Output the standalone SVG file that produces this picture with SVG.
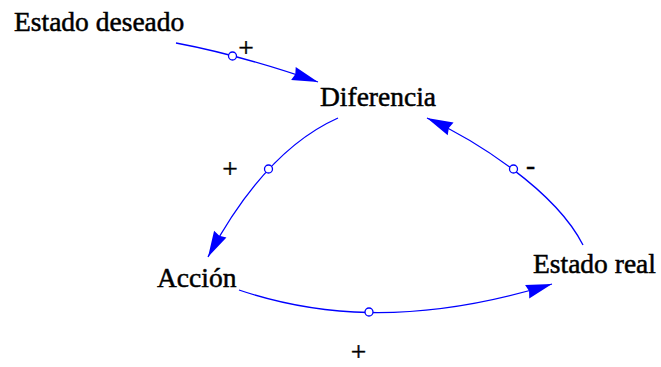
<svg xmlns="http://www.w3.org/2000/svg" width="661" height="367" viewBox="0 0 661 367">
<style>
.lbl{font-family:"Liberation Serif","Times New Roman",serif;font-size:27.5px;fill:#000;stroke:#000;stroke-width:0.5}
.pol{font-family:"Liberation Serif","Times New Roman",serif;font-size:27.5px;fill:#000;stroke:#000;stroke-width:0.4;text-anchor:middle}
.link{fill:none;stroke:#0000ff;stroke-width:1.3}
.dot{fill:#fff;stroke:#0000ff;stroke-width:1.3}
</style>
<defs>
<marker id="ah" markerUnits="userSpaceOnUse" markerWidth="30" markerHeight="18" viewBox="-27 -9 30 18" refX="0" refY="0" orient="auto">
<path d="M0,0 L-26,-7 L-24,0 L-26,7 Z" fill="#0000ff"/>
</marker>
</defs>
<rect width="661" height="367" fill="#fff"/>
<g id="connectors">
<g id="link-deseado-diferencia">
<path class="link" d="M176,43 Q240,55 318,82" marker-end="url(#ah)"/>
<circle class="dot" cx="232.5" cy="56" r="4"/>
<text class="pol" x="246" y="57">+</text>
</g>
<g id="link-diferencia-accion">
<path class="link" d="M338,118 Q265,150.5 208,257" marker-end="url(#ah)"/>
<circle class="dot" cx="268.5" cy="169" r="4"/>
<text class="pol" x="230" y="178">+</text>
</g>
<g id="link-real-diferencia">
<path class="link" d="M583,245 C555,190 475,140 427,118" marker-end="url(#ah)"/>
<circle class="dot" cx="513.5" cy="169" r="4"/>
<text class="pol" x="530.5" y="174">-</text>
</g>
<g id="link-accion-real">
<path class="link" d="M239,290 C310,314 410,328 552,284" marker-end="url(#ah)"/>
<circle class="dot" cx="369" cy="312" r="4"/>
<text class="pol" x="358.5" y="361">+</text>
</g>
</g>
<g id="node-estado-deseado"><text class="lbl" x="14" y="31">Estado deseado</text></g>
<g id="node-diferencia"><text class="lbl" x="320" y="106">Diferencia</text></g>
<g id="node-accion"><text class="lbl" x="157" y="287">Acción</text></g>
<g id="node-estado-real"><text class="lbl" x="533" y="273">Estado real</text></g>
</svg>
